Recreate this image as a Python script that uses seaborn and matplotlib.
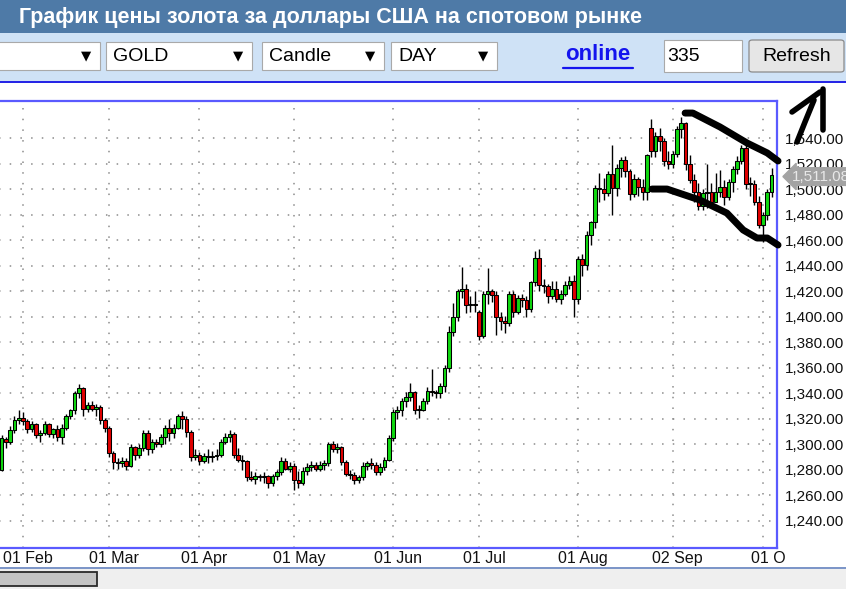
import numpy as np
import pandas as pd
import matplotlib.pyplot as plt
import seaborn as sns
from matplotlib.patches import Rectangle, FancyBboxPatch
from matplotlib.lines import Line2D
from matplotlib.transforms import ScaledTranslation

# daily XAU/USD candles, 24 Jan 2019 .. 03 Oct 2019
opens = [
    1281, 1280, 1304, 1302, 1311, 1319,
    1321, 1318, 1312, 1316, 1307, 1309, 1316, 1308, 1312, 1306, 1313, 1322, 1327, 1340, 1344, 1328, 1331, 1328, 1329, 1319,
    1313, 1293, 1286, 1285, 1287, 1283, 1298, 1292, 1297, 1309, 1296, 1302, 1300, 1306, 1313, 1309, 1313, 1322, 1320, 1310, 1290,
    1292, 1287, 1291, 1290, 1291, 1292, 1302, 1306, 1308, 1292, 1288, 1287, 1274, 1273, 1275, 1274, 1275, 1270, 1275, 1278, 1287, 1281,
    1283, 1272, 1270, 1279, 1282, 1284, 1281, 1284, 1285, 1300, 1296, 1298, 1286, 1277, 1276, 1272, 1274, 1283, 1285, 1284, 1278, 1282, 1288,
    1305, 1325, 1327, 1334, 1337, 1341, 1327, 1327, 1334, 1342, 1341, 1340, 1346, 1360, 1388, 1400, 1420, 1422, 1409, 1410,
    1404, 1385, 1418, 1420, 1417, 1400, 1397, 1395, 1418, 1404, 1415, 1413, 1406, 1427, 1446, 1425, 1424, 1416, 1422, 1414, 1418, 1425, 1428,
    1414, 1445, 1441, 1464, 1474, 1501, 1500, 1497, 1512, 1501, 1517, 1523, 1514, 1496, 1508, 1502, 1498, 1548, 1530, 1542, 1538, 1522,
    1520, 1528, 1547, 1552, 1520, 1507, 1498, 1487, 1497, 1498, 1490, 1498, 1502, 1494, 1506, 1516, 1522, 1532, 1504, 1504, 1490,
    1472, 1480, 1498,
]
highs = [
    1284, 1307, 1306, 1314, 1322, 1327,
    1325, 1320, 1318, 1317, 1311, 1318, 1317, 1313, 1315, 1316, 1324, 1328, 1342, 1347, 1345, 1333, 1334, 1332, 1331, 1321,
    1314, 1295, 1289, 1290, 1289, 1300, 1299, 1300, 1311, 1311, 1304, 1304, 1308, 1315, 1320, 1316, 1324, 1326, 1322, 1311, 1296,
    1294, 1293, 1296, 1295, 1296, 1304, 1309, 1311, 1310, 1297, 1292, 1288, 1279, 1278, 1277, 1278, 1276, 1277, 1280, 1290, 1289, 1286,
    1285, 1279, 1282, 1285, 1287, 1286, 1287, 1288, 1302, 1303, 1301, 1299, 1288, 1280, 1278, 1276, 1286, 1287, 1289, 1286, 1285, 1290, 1307,
    1328, 1330, 1336, 1341, 1348, 1342, 1331, 1336, 1345, 1359, 1343, 1348, 1362, 1393, 1411, 1422, 1439, 1426, 1416, 1420,
    1405, 1420, 1438, 1422, 1420, 1404, 1401, 1420, 1420, 1417, 1418, 1416, 1428, 1452, 1453, 1430, 1426, 1428, 1428, 1421, 1428, 1432, 1433,
    1448, 1449, 1467, 1475, 1503, 1513, 1509, 1514, 1535, 1520, 1525, 1526, 1516, 1512, 1510, 1508, 1528, 1555, 1545, 1548, 1540, 1530,
    1530, 1550, 1557, 1553, 1527, 1512, 1505, 1500, 1520, 1505, 1513, 1515, 1507, 1508, 1518, 1526, 1535, 1535, 1510, 1507, 1495,
    1482, 1500, 1517,
]
lows = [
    1277, 1279, 1297, 1300, 1309, 1316,
    1315, 1309, 1310, 1305, 1302, 1307, 1306, 1305, 1303, 1300, 1311, 1320, 1324, 1336, 1322, 1325, 1326, 1322, 1316, 1310,
    1290, 1281, 1281, 1282, 1280, 1282, 1288, 1289, 1295, 1292, 1293, 1298, 1298, 1300, 1303, 1305, 1312, 1312, 1306, 1287, 1288,
    1284, 1285, 1285, 1286, 1288, 1290, 1300, 1302, 1289, 1286, 1280, 1271, 1271, 1269, 1271, 1270, 1266, 1267, 1272, 1276, 1280, 1278,
    1264, 1266, 1268, 1276, 1279, 1279, 1279, 1280, 1283, 1294, 1293, 1284, 1275, 1273, 1269, 1270, 1272, 1280, 1281, 1276, 1276, 1280, 1287,
    1303, 1320, 1322, 1329, 1334, 1324, 1321, 1326, 1332, 1338, 1336, 1336, 1341, 1357, 1385, 1397, 1415, 1403, 1404, 1404,
    1382, 1383, 1410, 1412, 1386, 1390, 1387, 1393, 1400, 1402, 1408, 1400, 1404, 1424, 1420, 1419, 1411, 1414, 1412, 1410, 1416, 1422, 1400,
    1410, 1432, 1437, 1456, 1470, 1490, 1492, 1495, 1480, 1495, 1510, 1510, 1492, 1494, 1495, 1492, 1492, 1525, 1525, 1530, 1518, 1516,
    1517, 1525, 1540, 1515, 1505, 1490, 1484, 1484, 1485, 1487, 1490, 1494, 1488, 1492, 1498, 1512, 1520, 1500, 1495, 1488, 1470,
    1459, 1476, 1494,
]
closes = [
    1280, 1305, 1302, 1311, 1319, 1321,
    1318, 1312, 1316, 1307, 1309, 1316, 1308, 1312, 1306, 1313, 1322, 1327, 1340, 1344, 1328, 1331, 1328, 1329, 1319, 1313,
    1293, 1286, 1285, 1287, 1283, 1298, 1292, 1297, 1309, 1296, 1302, 1300, 1306, 1313, 1309, 1313, 1322, 1320, 1310, 1290, 1292,
    1287, 1291, 1290, 1291, 1292, 1302, 1306, 1308, 1292, 1288, 1287, 1274, 1273, 1275, 1274, 1275, 1270, 1275, 1278, 1287, 1281, 1283,
    1272, 1270, 1279, 1282, 1284, 1281, 1284, 1285, 1300, 1296, 1298, 1286, 1277, 1276, 1272, 1274, 1283, 1285, 1284, 1278, 1282, 1288, 1305,
    1325, 1327, 1334, 1337, 1341, 1327, 1327, 1334, 1342, 1341, 1340, 1346, 1360, 1388, 1400, 1420, 1422, 1409, 1410, 1409,
    1385, 1418, 1420, 1417, 1400, 1397, 1395, 1418, 1404, 1415, 1413, 1406, 1427, 1446, 1425, 1424, 1416, 1422, 1414, 1418, 1425, 1428, 1414,
    1445, 1441, 1464, 1474, 1501, 1500, 1497, 1512, 1501, 1517, 1523, 1514, 1496, 1508, 1502, 1498, 1527, 1530, 1542, 1538, 1522, 1520,
    1528, 1547, 1552, 1520, 1507, 1498, 1487, 1497, 1498, 1490, 1498, 1502, 1494, 1506, 1516, 1522, 1532, 1504, 1504, 1490, 1472,
    1480, 1498, 1511.08,
]
month_labels = ["01 Feb", "01 Mar", "01 Apr", "01 May", "01 Jun", "01 Jul", "01 Aug", "02 Sep", "01 O"]
price_ticks = list(range(1240, 1541, 20))
last_price = 1511.08
# hand-drawn channel lines on the screenshot (bar index, price)
upper_idx = [159.9, 161.7, 168.0, 174.3, 179.0, 181.5]
upper_px = [1559.8, 1559.8, 1548.9, 1536.3, 1528.5, 1522.2]
lower_idx = [152.2, 155.7, 163.4, 169.6, 173.4, 176.6, 179.0, 181.5]
lower_px = [1500.2, 1500.2, 1491.5, 1481.4, 1468.1, 1461.8, 1461.8, 1456.3]

W, H = 846, 589

df = pd.DataFrame({"Open": opens, "High": highs, "Low": lows, "Close": closes})
df["Date"] = pd.bdate_range("2019-01-24", periods=len(df))
df["idx"] = np.arange(len(df))
df["up"] = df["Close"] >= df["Open"]
df["body_lo"] = df[["Open", "Close"]].min(axis=1)
df["body_h"] = (df["Close"] - df["Open"]).abs().clip(lower=0.8)

sns.set_theme(style="white")
plt.rcParams["font.family"] = ["Liberation Sans", "DejaVu Sans"]

fig = plt.figure(figsize=(W / 100, H / 100), dpi=100)
fig.patch.set_facecolor("white")


def prect(x0, y0, x1, y1, **kw):
    r = Rectangle((x0 / W, 1 - y1 / H), (x1 - x0) / W, (y1 - y0) / H,
                  transform=fig.transFigure, **kw)
    fig.add_artist(r)
    return r


def ptext(x, y, s, **kw):
    return fig.text(x / W, 1 - y / H, s, **kw)


def pline(xs, ys, **kw):
    fig.add_artist(Line2D([x / W for x in xs], [1 - y / H for y in ys],
                          transform=fig.transFigure, **kw))


# header + toolbar
prect(0, 0, W, 33, facecolor="#4e7aa7", edgecolor="none")
ptext(19, 17, "График цены золота за доллары США на спотовом рынке",
      color="white", fontsize=15.5, fontweight="bold", va="center", ha="left")
prect(0, 33, W, 81, facecolor="#cfe2f6", edgecolor="none")
prect(0, 81, W, 83, facecolor="#2626e6", edgecolor="none")

for x0, x1, label in [(-5, 100, ""), (106, 252, "GOLD"), (262, 384, "Candle"), (391, 497, "DAY")]:
    prect(x0, 42, x1, 70, facecolor="white", edgecolor="#a9a9a9", lw=0.8)
    ptext(x0 + 7, 56.5, label, fontsize=14, va="center", ha="left", color="black")
    ptext(x1 - 14, 56, "▼", fontsize=9.5, va="center", ha="center", color="black",
          family=["DejaVu Sans"])

ptext(598, 55, "online", fontsize=16, fontweight="bold", color="#1414ee", va="center", ha="center")
pline([563, 633], [67.5, 67.5], color="#1414ee", lw=1.6)
prect(664, 40, 742, 72, facecolor="white", edgecolor="#a9a9a9", lw=0.8)
ptext(667, 56.5, "335", fontsize=14, va="center", ha="left", color="black")
btn = FancyBboxPatch((749 / W, 1 - 72 / H), 95 / W, 32 / H,
                     boxstyle="round,pad=0,rounding_size=0.004",
                     transform=fig.transFigure, facecolor="#e6e6e6", edgecolor="#8a8a8a", lw=0.9)
fig.add_artist(btn)
ptext(797, 56.5, "Refresh", fontsize=14, va="center", ha="center", color="black")

# bottom strip with scroll thumb
prect(0, 567, W, 569, facecolor="#7d96c8", edgecolor="none")
prect(0, 569, W, H, facecolor="#efefef", edgecolor="none")
prect(-2, 572, 97, 586, facecolor="#c4c4c4", edgecolor="#2a2a2a", lw=1.3)

# chart axes
ax = fig.add_axes([-3 / W, (H - 548) / H, 780 / W, 447 / H])
ax.set_facecolor("white")

ax.vlines(df["idx"], df["Low"], df["High"], color="black", lw=1.0, zorder=3)
ax.bar(df["idx"], df["body_h"], bottom=df["body_lo"], width=0.85,
       color=np.where(df["up"], "#10d810", "#e00000"), edgecolor="black", linewidth=0.75, zorder=4)

ax.set_xlim(-0.047, 181.26)
ax.set_ylim(1218.7, 1569.25)

month_start = df.groupby(df["Date"].dt.to_period("M"))["idx"].min().iloc[1:]
ax.set_xticks(month_start.values)
ax.set_xticklabels(month_labels[:len(month_start)])
ax.set_yticks(price_ticks)
ax.set_yticklabels([f"{v:,.2f}" for v in price_ticks])
ax.yaxis.tick_right()
ax.tick_params(axis="y", length=0, pad=6, labelsize=11, colors="#111111")
ax.tick_params(axis="x", length=0, pad=2, labelsize=11.5, colors="#111111")
shift = ScaledTranslation(5 / 100, 0, fig.dpi_scale_trans)
for lbl in ax.get_xticklabels():
    lbl.set_transform(lbl.get_transform() + shift)

ax.grid(True, color="#8c8c8c", linestyle=(0, (1, 6)), lw=1.1)
ax.set_axisbelow(True)
for side in ["top", "right", "bottom"]:
    ax.spines[side].set_color("#5a5aff")
    ax.spines[side].set_linewidth(1.6)
ax.spines["left"].set_visible(False)

# last price tag
ax.annotate(f"{last_price:,.2f}", xy=(1.0, last_price), xycoords=("axes fraction", "data"),
            xytext=(11, -1), textcoords="offset points", va="center", ha="left",
            fontsize=11, color="#e8e8e8", annotation_clip=False, zorder=7,
            bbox=dict(boxstyle="larrow,pad=0.12", fc="#a3a3a3", ec="#a3a3a3"))

# hand-drawn marks
ax.plot(upper_idx, upper_px, color="black", lw=5, solid_capstyle="round", clip_on=False, zorder=8)
ax.plot(lower_idx, lower_px, color="black", lw=5, solid_capstyle="round", clip_on=False, zorder=8)
pline([792, 806, 820], [112, 102, 92], color="black", lw=4, solid_capstyle="round")
pline([823, 823], [89, 130], color="black", lw=4, solid_capstyle="round")
pline([814, 805, 797], [100, 122, 142], color="black", lw=4, solid_capstyle="round")

fig.savefig("out.png", dpi=100)
